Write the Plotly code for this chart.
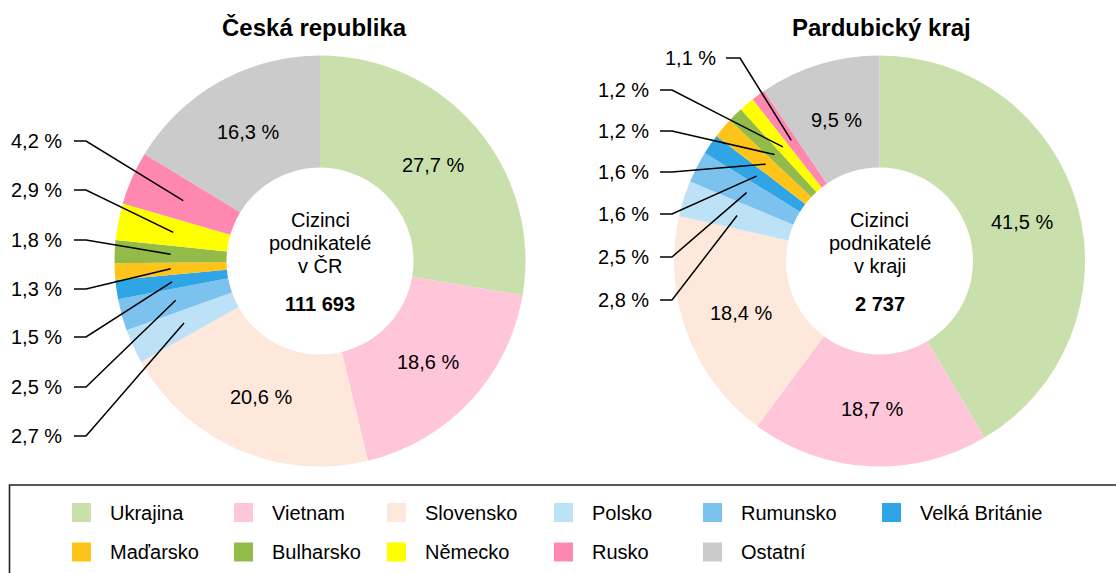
import math
import plotly.graph_objects as go

# ---------------- data ----------------
categories = ["Ukrajina", "Vietnam", "Slovensko", "Polsko", "Rumunsko",
              "Velká Británie", "Maďarsko", "Bulharsko", "Německo", "Rusko", "Ostatní"]
cr_values = [27.7, 18.6, 20.6, 2.7, 2.5, 1.5, 1.3, 1.8, 2.9, 4.2, 16.3]
pk_values = [41.5, 18.7, 18.4, 2.8, 2.5, 1.6, 1.6, 1.2, 1.2, 1.1, 9.5]
titles = ["Česká republika", "Pardubický kraj"]
center_captions = [["Cizinci", "podnikatelé", "v ČR"], ["Cizinci", "podnikatelé", "v kraji"]]
center_totals = ["111 693", "2 737"]

# ---------------- style / layout ----------------
colors = ["#C9E0AC", "#FFC5D9", "#FDE8DB", "#BDE2F7", "#7BC3EE", "#2FA5E6",
          "#FFC419", "#92BB4A", "#FFFF00", "#FF88B1", "#CBCBCB"]
W, H = 1116, 573
FONT = "Liberation Sans, Arial, sans-serif"
FS = 20
R = 205.5
HOLE = 0.455
R_TEXT = 148
SMALL = 5.0  # slices below this get outside labels with leader lines

pies = [
    dict(values=cr_values, cx=320.0, cy=261.0, title_x=314,
         # (text right x, y, line start x, knee x) for small slices from Rusko downwards
         slots=[(64, 141, 74, 86), (64, 190, 74, 86), (64, 240, 74, 86), (64, 289, 74, 86),
                (64, 337, 74, 86), (64, 387, 74, 86), (64, 436, 74, 86)]),
    dict(values=pk_values, cx=879.5, cy=261.0, title_x=881,
         slots=[(718, 58, 726, 740), (651, 90, 660, 672), (651, 131, 660, 672), (651, 172, 660, 672),
                (651, 214, 660, 672), (651, 257, 660, 672), (651, 300, 660, 672)]),
]


def px(x):
    return x / W


def py(y):
    return 1 - y / H


def fmt(v):
    return f"{v:.1f}".replace(".", ",") + " %"


def label(x, y, text, anchor="center", size=FS):
    return dict(x=px(x), y=py(y), xref="paper", yref="paper", text=text, showarrow=False,
                font=dict(family=FONT, size=size, color="black"),
                xanchor=anchor, yanchor="middle")


fig = go.Figure()
annotations = []
shapes = []

for p, title, caps, tot in zip(pies, titles, center_captions, center_totals):
    vals = p["values"]
    cx, cy = p["cx"], p["cy"]
    fig.add_trace(go.Pie(
        labels=categories, values=vals, sort=False, direction="clockwise", rotation=0,
        hole=HOLE, marker=dict(colors=colors, line=dict(width=0)),
        textinfo="none",
        domain=dict(x=[px(cx - R), px(cx + R)], y=[py(cy + R), py(cy - R)]),
        showlegend=False, hoverinfo="label+percent",
    ))

    annotations.append(label(p["title_x"], 28, f"<b>{title}</b>", size=24))
    for line, yy in zip(caps, [220, 243, 266]):
        annotations.append(label(cx, yy, line))
    annotations.append(label(cx, 304, f"<b>{tot}</b>"))

    total = sum(vals)
    cum = 0.0
    mids = []
    for v in vals:
        mids.append((cum + v / 2) / total * 2 * math.pi)
        cum += v

    # inside labels for the big slices
    for v, ang in zip(vals, mids):
        if v >= SMALL:
            annotations.append(label(cx + R_TEXT * math.sin(ang), cy - R_TEXT * math.cos(ang), fmt(v)))

    # outside labels with leader lines
    small_idx = [i for i, v in enumerate(vals) if v < SMALL][::-1]
    r_mid = (R + HOLE * R) / 2
    for i, (tx, ty, lx0, lx1) in zip(small_idx, p["slots"]):
        ang = mids[i]
        ex = cx + r_mid * math.sin(ang)
        ey = cy - r_mid * math.cos(ang)
        annotations.append(label(tx, ty, fmt(vals[i]), anchor="right"))
        path = f"M {px(lx0)},{py(ty)} L {px(lx1)},{py(ty)} L {px(ex)},{py(ey)}"
        shapes.append(dict(type="path", xref="paper", yref="paper", path=path,
                           line=dict(color="black", width=1.5)))

# legend frame
shapes.append(dict(type="rect", xref="paper", yref="paper",
                   x0=px(9.5), x1=px(1130), y0=py(485), y1=py(590),
                   line=dict(color="#222222", width=1.6), fillcolor="rgba(0,0,0,0)"))

# manual legend
col_x = [72, 234, 387, 554, 703, 882]
row_y = [512.5, 552]
SQ = 19
for k, (cat, col) in enumerate(zip(categories, colors)):
    r_i, c_i = divmod(k, 6)
    x0 = col_x[c_i]
    yc = row_y[r_i]
    shapes.append(dict(type="rect", xref="paper", yref="paper",
                       x0=px(x0), x1=px(x0 + SQ), y0=py(yc + SQ / 2), y1=py(yc - SQ / 2),
                       line=dict(width=0), fillcolor=col))
    annotations.append(label(x0 + 36, yc, cat, anchor="left"))

fig.update_layout(
    width=W, height=H, margin=dict(l=0, r=0, t=0, b=0),
    paper_bgcolor="white", plot_bgcolor="white",
    annotations=annotations, shapes=shapes,
    font=dict(family=FONT, size=FS, color="black"),
)

fig.write_html("out.html", config={"displayModeBar": False},
               post_script="document.body.style.margin='0';document.body.style.overflow='hidden';")
